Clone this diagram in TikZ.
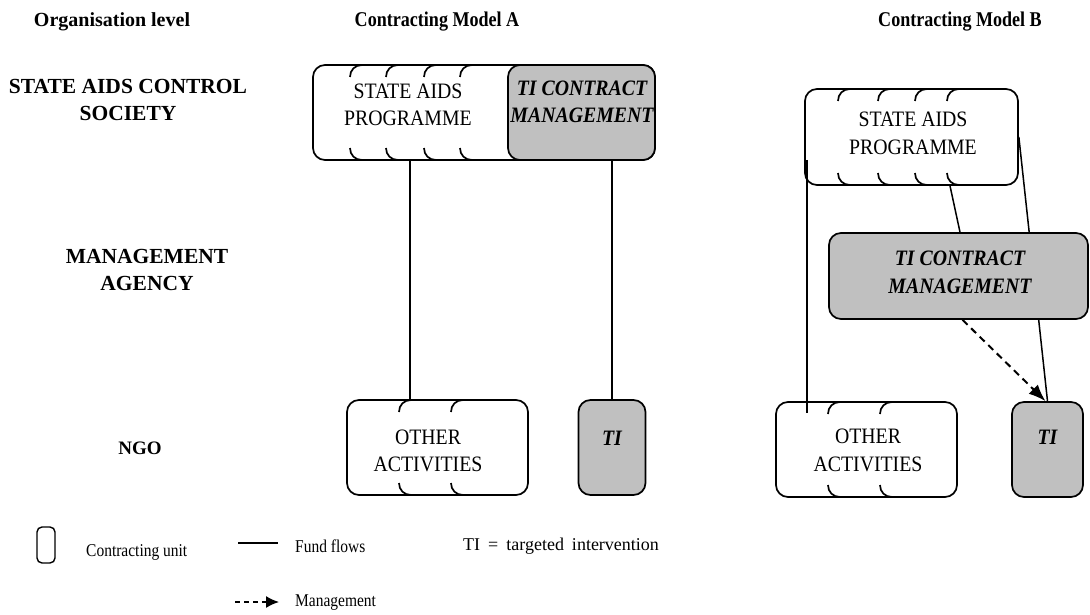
\documentclass[tikz,border=0pt]{standalone}
\usepackage{fontspec}
\setmainfont{Liberation Serif}
\usetikzlibrary{arrows.meta,calc,backgrounds}
\definecolor{unitgray}{HTML}{C0C0C0}

% narrow (horizontally condensed) line of text
\newcommand\cnd[2][0.86]{\scalebox{#1}[1]{#2}}

% corner arcs marking the left edge of a unit inside a stack of units
% #1 = x, #2 = top y, #3 = bottom y
\newcommand\unitsplit[3]{%
  \draw[splitline] (#1,{#2+12}) .. controls (#1,{#2+5}) and ({#1+5},#2) .. ({#1+12},#2);
  \draw[splitline] (#1,{#3-12}) .. controls (#1,{#3-5}) and ({#1+5},#3) .. ({#1+12},#3);
}

\begin{document}
\begin{tikzpicture}[x=1pt,y=-1pt,
  unit/.style={draw, line width=1.7pt, rounded corners=12pt, inner sep=0pt, fill=white},
  shaded/.style={unit, fill=unitgray},
  splitline/.style={line width=1.7pt},
  flow/.style={line width=1.5pt},
  mgmt/.style={line width=2pt, dash pattern=on 7pt off 5pt, -{Latex[length=17pt,width=13pt]}},
  boxtext/.style={align=center, inner sep=0pt, font=\fontsize{22}{27.5}\selectfont},
  boldtext/.style={boxtext, font=\fontsize{22}{27.5}\selectfont\bfseries\itshape},
  head/.style={align=center, inner sep=0pt, font=\fontsize{21.5}{27}\selectfont\bfseries},
  legtext/.style={anchor=west, inner sep=0pt, font=\fontsize{18}{20}\selectfont}
]
\useasboundingbox (0,0) rectangle (1090,615);

% column and row headings
\node[head, font=\fontsize{20}{24}\selectfont\bfseries] (hLevel) at (112,22) {Organisation level};
\node[head, font=\fontsize{21}{24}\selectfont\bfseries] (hA) at (437,22) {\cnd{Contracting Model A}};
\node[head, font=\fontsize{21}{24}\selectfont\bfseries] (hB) at (960,22) {\cnd{Contracting Model B}};
\node[head] (lSACS) at (128,100) {STATE AIDS CONTROL\\SOCIETY};
\node[head] (lMA) at (147,270) {MANAGEMENT\\AGENCY};
\node[head, font=\fontsize{19}{24}\selectfont\bfseries] (lNGO) at (140,448) {NGO};

% ---------------- Model A ----------------
\node[unit, minimum width=342pt, minimum height=95pt] (sapA) at (484,112.5) {};
\unitsplit{350}{65}{160}
\unitsplit{386}{65}{160}
\unitsplit{424}{65}{160}
\unitsplit{460}{65}{160}
\node[shaded, minimum width=147pt, minimum height=95pt] (tcmA) at (581.5,112.5) {};
\node[boxtext] (sapAt) at (408,105) {\cnd[0.9]{STATE AIDS}\\\cnd[0.9]{PROGRAMME}};
\node[boldtext] (tcmAt) at (582,102) {\cnd[0.9]{TI CONTRACT}\\\cnd[0.9]{MANAGEMENT}};

\node[unit, minimum width=181pt, minimum height=95pt] (othA) at (437.5,447.5) {};
\unitsplit{399}{400}{495}
\unitsplit{451}{400}{495}
\node[boxtext] (othAt) at (428,451) {\cnd[0.9]{OTHER}\\\cnd[0.9]{ACTIVITIES}};

\node[shaded, minimum width=67pt, minimum height=95pt] (tiA) at (612,447.5) {};
\node[boldtext] (tiAt) at (612,438) {\cnd[0.9]{TI}};

\coordinate (fA) at (410,0);
\draw[flow] (sapA.south -| fA) -- (othA.north -| fA);
\draw[flow] (tcmA.south -| tiA.north) -- (tiA.north);

% ---------------- Model B ----------------
\node[unit, minimum width=213pt, minimum height=96pt] (sapB) at (911.5,137) {};
\unitsplit{838}{89}{185}
\unitsplit{878}{89}{185}
\unitsplit{915}{89}{185}
\unitsplit{947}{89}{185}
\node[boxtext] (sapBt) at (913,133.5) {\cnd[0.9]{STATE AIDS}\\\cnd[0.9]{PROGRAMME}};

\node[shaded, minimum width=259pt, minimum height=86pt] (tcmB) at (958.5,276) {};
\node[boldtext] (tcmBt) at (960,272.5) {\cnd[0.9]{TI CONTRACT}\\\cnd[0.9]{MANAGEMENT}};

\node[unit, minimum width=181pt, minimum height=95pt] (othB) at (866.5,449.5) {};
\unitsplit{828}{402}{497}
\unitsplit{880}{402}{497}
\node[boxtext] (othBt) at (868,450.5) {\cnd[0.9]{OTHER}\\\cnd[0.9]{ACTIVITIES}};

\node[shaded, minimum width=71pt, minimum height=95pt] (tiB) at (1047.5,449.5) {};
\node[boldtext] (tiBt) at (1047.5,437) {\cnd[0.9]{TI}};

\begin{scope}[on background layer]
  \draw[flow] ([xshift=38.5pt]sapB.south) -- ([xshift=1.5pt]tcmB.north);
  \draw[flow] (sapB.east) -- (tiB.north);
\end{scope}
\coordinate (fB1) at (807,160);
\coordinate (fB2) at (807,413);
\draw[flow] (fB1) -- (fB2);
\draw[mgmt] ([xshift=4pt]tcmB.south) -- ([xshift=-2pt]tiB.north);

% ---------------- Legend ----------------
\node[unit, rounded corners=5pt, line width=1.4pt, minimum width=18pt, minimum height=36pt] (legUnit) at (46,545) {};
\node[legtext] (legUnitT) at (86,552) {\cnd{Contracting unit}};
\coordinate (lf1) at (238,543);
\coordinate (lf2) at (278,543);
\draw[flow] (lf1) -- (lf2);
\node[legtext] (legFundT) at (295,546) {\cnd{Fund flows}};
\node[legtext] (legTI) at (463,546) {\spaceskip=8pt TI = targeted intervention};
\coordinate (lm1) at (235,602);
\coordinate (lm2) at (279,602);
\draw[mgmt, line width=1.5pt, dash pattern=on 5pt off 4pt, -{Latex[length=13pt,width=12pt]}] (lm1) -- (lm2);
\node[legtext] (legMgmtT) at (295,603) {\cnd{Management}};
\end{tikzpicture}
\end{document}
